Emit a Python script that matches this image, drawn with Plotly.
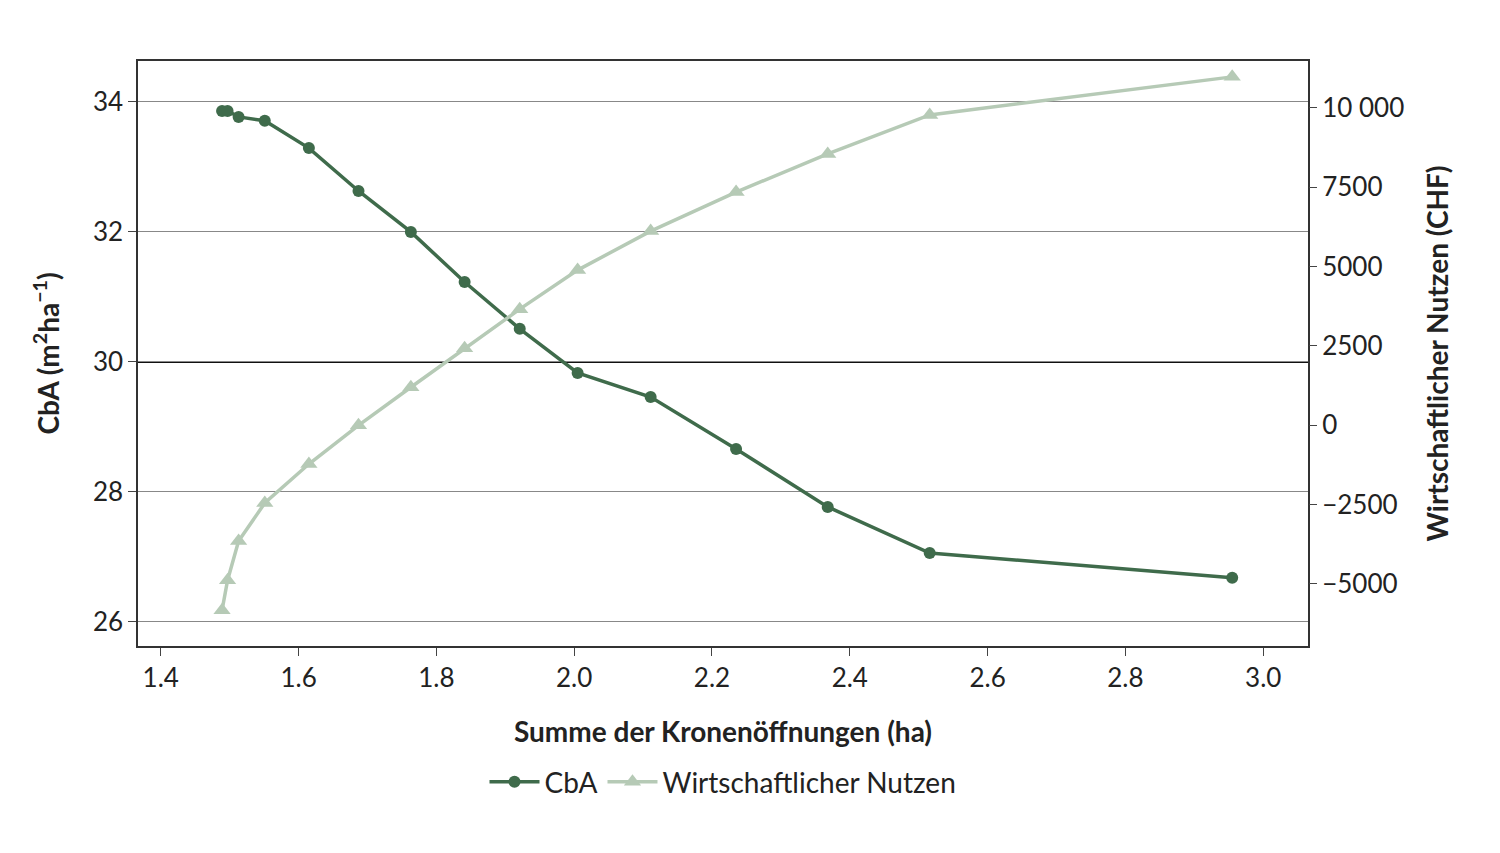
import plotly.graph_objects as go

kronen = [1.489, 1.497, 1.513, 1.551, 1.615, 1.687, 1.763, 1.841, 1.921, 2.005,
          2.111, 2.235, 2.368, 2.516, 2.955]
cba = [33.86, 33.86, 33.77, 33.71, 33.29, 32.63, 32.0, 31.23, 30.51, 29.83,
       29.46, 28.66, 27.77, 27.06, 26.68]
nutzen = [-5830, -4880, -3650, -2450, -1220, 0, 1200, 2430, 3660, 4890,
          6120, 7350, 8550, 9780, 10980]

dark = "#3f6b4b"
light = "#b6cab6"
font = "Lato"

fig = go.Figure()
fig.add_trace(go.Scatter(x=kronen, y=nutzen, name="Wirtschaftlicher Nutzen", yaxis="y2",
                         mode="lines+markers", line=dict(color=light, width=3.5),
                         marker=dict(symbol="triangle-up", size=15, color=light)))
fig.add_trace(go.Scatter(x=kronen, y=cba, name="CbA", mode="lines+markers",
                         line=dict(color=dark, width=3.5), marker=dict(size=12, color=dark)))

fig.update_layout(
    width=1500, height=853, plot_bgcolor="white", paper_bgcolor="white",
    font=dict(family=font, size=26, color="#222"),
    margin=dict(l=130, r=200, t=53, b=215),
    showlegend=True,
    legend=dict(orientation="h", x=0.5, xanchor="center", y=-0.19, yanchor="top",
                traceorder="reversed", font=dict(size=28), itemwidth=50),
    xaxis=dict(range=[1.367, 3.065], tickvals=[1.4, 1.6, 1.8, 2.0, 2.2, 2.4, 2.6, 2.8, 3.0],
               tickformat=".1f", ticks="outside", ticklen=8, showgrid=False,
               showline=True, mirror=True, linecolor="#333", linewidth=1.5,
               title=dict(text="<b>Summe der Kronenöffnungen (ha)</b>", font=dict(size=28), standoff=30)),
    yaxis=dict(range=[25.63, 34.63], tickvals=[26, 28, 30, 32, 34], ticks="outside", ticklen=8,
               showgrid=True, gridcolor="#888", gridwidth=1, showline=True, mirror=True,
               linecolor="#333", linewidth=1.5, zeroline=False,
               title=dict(text="<b>CbA (m<sup>2</sup>ha<sup>−1</sup>)</b>", font=dict(size=28), standoff=25)),
    yaxis2=dict(range=[-6955, 11480], overlaying="y", side="right",
                tickvals=[-5000, -2500, 0, 2500, 5000, 7500, 10000],
                ticktext=["−5000", "−2500", "0", "2500", "5000", "7500", "10 000"],
                ticks="outside", ticklen=8, showgrid=False, zeroline=False,
                title=dict(text="<b>Wirtschaftlicher Nutzen (CHF)</b>", font=dict(size=28), standoff=25)),
    shapes=[dict(type="line", xref="paper", x0=0, x1=1, yref="y", y0=30, y1=30,
                 line=dict(color="#111", width=2), layer="below")],
)

fig.write_html("out.html")
